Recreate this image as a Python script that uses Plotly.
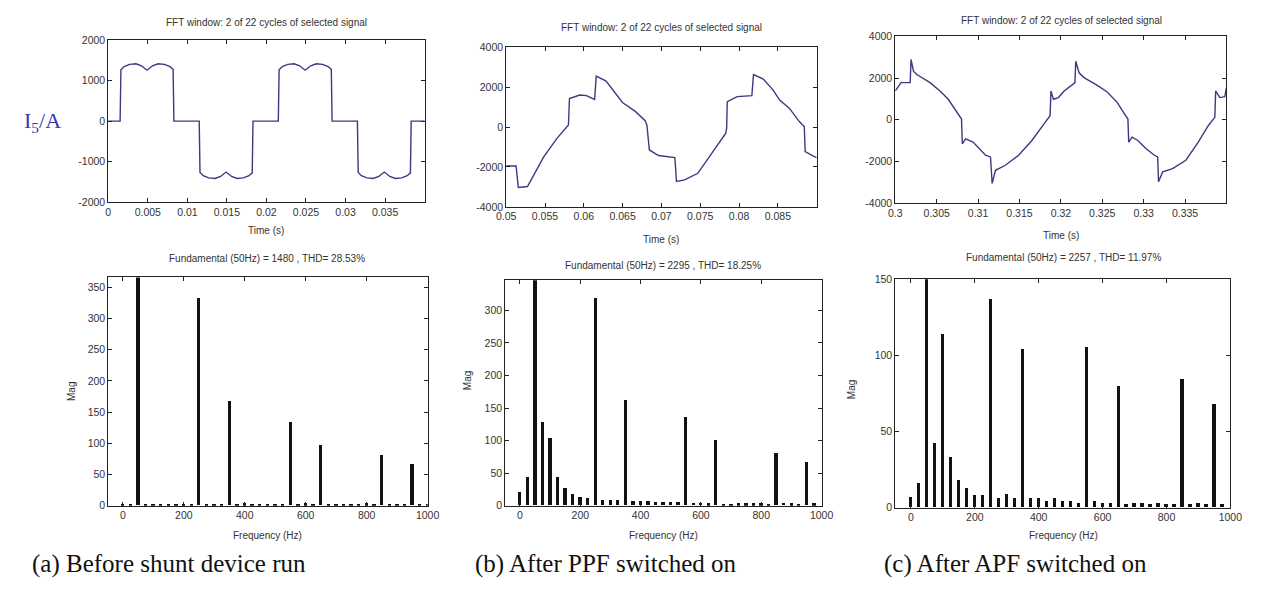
import plotly.graph_objects as go

W, H = 1262, 594

# ---------------- data ----------------
# (a) time-domain current, before shunt device
t_a = [0, 0.0015, 0.0016, 0.0020, 0.0027, 0.0035, 0.0042, 0.0049, 0.0056, 0.0063, 0.0071, 0.0078, 0.0082, 0.0083,
       0.0115, 0.0116, 0.0120, 0.0127, 0.0135, 0.0142, 0.0149, 0.0156, 0.0163, 0.0171, 0.0178, 0.0182, 0.0183,
       0.0215, 0.0216, 0.0220, 0.0227, 0.0235, 0.0242, 0.0249, 0.0256, 0.0263, 0.0271, 0.0278, 0.0282, 0.0283,
       0.0315, 0.0316, 0.0320, 0.0327, 0.0335, 0.0342, 0.0349, 0.0356, 0.0363, 0.0371, 0.0378, 0.0382, 0.0383, 0.04]
i_a = [0, 0, 1270, 1350, 1405, 1420, 1370, 1260, 1370, 1420, 1405, 1350, 1280, 0,
       0, -1270, -1350, -1405, -1420, -1370, -1260, -1370, -1420, -1405, -1350, -1280, 0,
       0, 1270, 1350, 1405, 1420, 1370, 1260, 1370, 1420, 1405, 1350, 1280, 0,
       0, -1270, -1350, -1405, -1420, -1370, -1260, -1370, -1420, -1405, -1350, -1280, 0, 0]

# (b) time-domain current, after PPF
t_b = [0.05, 0.05127, 0.05156, 0.05274, 0.05485, 0.05654, 0.05802, 0.05815, 0.05949, 0.06034, 0.06139, 0.0616,
       0.06287, 0.06414, 0.06498, 0.06667, 0.06793, 0.06814, 0.06844, 0.06962, 0.07173, 0.07194, 0.073, 0.07468,
       0.07595, 0.07722, 0.07827, 0.0784, 0.07848, 0.07975, 0.08143, 0.08165, 0.08186, 0.08312, 0.08439, 0.08523,
       0.0865, 0.08776, 0.0884, 0.08852, 0.08945, 0.09]
i_b = [-1950, -1950, -3030, -2980, -1480, -570, 100, 1430, 1600, 1570, 1380, 2550,
       2300, 1680, 1230, 770, 300, 70, -1150, -1430, -1530, -2730, -2650, -2320,
       -1600, -870, -320, -70, 1270, 1520, 1570, 1570, 2630, 2400, 1850, 1350,
       930, 270, 20, -1230, -1430, -1530]

# (c) time-domain current, after APF
t_c = [0.3, 0.3007, 0.3018, 0.3019, 0.3022, 0.3026, 0.3042, 0.3054, 0.3064, 0.3074, 0.308, 0.3081, 0.3085,
       0.3094, 0.3102, 0.3109, 0.3115, 0.3117, 0.3121, 0.3133, 0.3149, 0.3165, 0.3181, 0.3187, 0.3188, 0.3191,
       0.3197, 0.3204, 0.3212, 0.3217, 0.3218, 0.3222, 0.3228, 0.3244, 0.3256, 0.3268, 0.3277, 0.3281, 0.3282,
       0.3286, 0.3293, 0.3303, 0.3313, 0.3317, 0.3318, 0.3323, 0.3335, 0.3351, 0.3366, 0.3378, 0.3386, 0.3387,
       0.3392, 0.3398, 0.34]
i_c = [1380, 1780, 1780, 2890, 2330, 2170, 1780, 1380, 980, 350, 30, -1160, -920,
       -1080, -1400, -1710, -1790, -3060, -2430, -2190, -1710, -1000, -130, 190, 1380, 980,
       1060, 1380, 1620, 1780, 2810, 2250, 2020, 1650, 1330, 830, 270, 30, -1080,
       -840, -1000, -1400, -1710, -1790, -2980, -2510, -2350, -1950, -1080, -290, 110, 1380,
       1060, 1100, 1540]

# harmonic spectra (25 Hz resolution, 0..1000 Hz)
freq = [0, 25, 50, 75, 100, 125, 150, 175, 200, 225, 250, 275, 300, 325, 350, 375, 400, 425, 450, 475, 500,
        525, 550, 575, 600, 625, 650, 675, 700, 725, 750, 775, 800, 825, 850, 875, 900, 925, 950, 975, 1000]
mag_a = [2, 1, 1480, 1, 1, 1, 1, 1, 2, 1, 333, 1, 1, 1, 168, 1, 3, 1, 1, 1, 1,
         1, 133, 1, 3, 1, 96, 1, 1, 1, 1, 1, 3, 1, 81, 1, 1, 1, 67, 1, 1]
mag_b = [20, 44, 2295, 128, 103, 44, 27, 18, 13, 12, 318, 8, 8, 8, 162, 6, 6, 6, 5, 5, 5,
         5, 135, 4, 4, 3, 100, 2, 2, 3, 3, 3, 3, 2, 81, 4, 3, 2, 67, 3, 0]
mag_c = [7, 16, 2257, 42, 114, 33, 18, 13, 8, 8, 137, 6, 9, 6, 104, 6, 6, 4, 6, 4, 4,
         3, 105, 4, 3, 3, 80, 2, 3, 3, 2, 3, 2, 2, 84, 2, 3, 2, 68, 2, 0]

# tick labels
tx_a = ['0', '0.005', '0.01', '0.015', '0.02', '0.025', '0.03', '0.035']
tx_b = ['0.05', '0.055', '0.06', '0.065', '0.07', '0.075', '0.08', '0.085']
tx_c = ['0.3', '0.305', '0.31', '0.315', '0.32', '0.325', '0.33', '0.335']
ty_a = ['-2000', '-1000', '0', '1000', '2000']
ty_bc = ['-4000', '-2000', '0', '2000', '4000']
tf = ['0', '200', '400', '600', '800', '1000']

titles_top = ['FFT window: 2 of 22 cycles of selected signal'] * 3
titles_bot = ['Fundamental (50Hz) = 1480 , THD= 28.53%',
              'Fundamental (50Hz) = 2295 , THD= 18.25%',
              'Fundamental (50Hz) = 2257 , THD= 11.97%']
captions = ['(a) Before shunt device run', '(b) After PPF switched on', '(c) After APF switched on']

# ---------------- figure ----------------
def px(x):
    return x / W

def py(y):
    return 1 - y / H

fig = go.Figure()
line_col = '#3a3a80'
fig.add_trace(go.Scatter(x=t_a, y=i_a, mode='lines', line=dict(color=line_col, width=1.4), xaxis='x', yaxis='y'))
fig.add_trace(go.Scatter(x=t_b, y=i_b, mode='lines', line=dict(color=line_col, width=1.4), xaxis='x2', yaxis='y2'))
fig.add_trace(go.Scatter(x=t_c, y=i_c, mode='lines', line=dict(color=line_col, width=1.4), xaxis='x3', yaxis='y3'))
for k, m in zip((4, 5, 6), (mag_a, mag_b, mag_c)):
    fig.add_trace(go.Bar(x=freq, y=m, width=11, marker=dict(color='#111', line=dict(width=0)),
                         xaxis='x%d' % k, yaxis='y%d' % k))

tickfont = dict(family='Liberation Sans', size=10.5, color='#333')
base = dict(showline=True, linecolor='#222', linewidth=1, mirror='ticks', ticks='inside', ticklen=4,
            tickcolor='#222', showgrid=False, zeroline=False, tickfont=tickfont, fixedrange=True)

boxes = {
    1: (100, 422, 35, 200), 2: (505, 821, 42, 205), 3: (901, 1238, 31, 201),
    4: (100, 425, 277, 510), 5: (504, 826, 280, 510), 6: (901, 1242, 279, 512),
}
xr = {1: [0, 0.04], 2: [0.05, 0.09], 3: [0.3, 0.34], 4: [-48, 1000], 5: [-49, 1000], 6: [-49, 1000]}
yr = {1: [-2000, 2000], 2: [-4000, 4000], 3: [-4000, 4000], 4: [0, 366], 5: [0, 346], 6: [0, 150]}
xtv = {1: (tx_a, 0.0), 2: (tx_b, 0.05), 3: (tx_c, 0.3)}
layout = {}
for k, (x0, x1, y0, y1) in boxes.items():
    xs = '' if k == 1 else str(k)
    xa = dict(base, domain=[px(x0), px(x1)], range=xr[k], anchor='y' + xs)
    ya = dict(base, domain=[py(y1), py(y0)], range=yr[k], anchor='x' + xs)
    if k <= 3:
        labels, start = xtv[k]
        xa['tickvals'] = [start + 0.005 * i for i in range(len(labels))]
        xa['ticktext'] = labels
        yl = ty_a if k == 1 else ty_bc
        ya['tickvals'] = [float(v) for v in yl]
        ya['ticktext'] = yl
    else:
        xa['tickvals'] = [float(v) for v in tf]
        xa['ticktext'] = tf
        ya['dtick'] = 50
    layout['xaxis' + xs] = xa
    layout['yaxis' + xs] = ya

ann = []
def text(x, y, s, size=10, color='#333', family='Liberation Sans', angle=0):
    ann.append(dict(x=px(x), y=py(y), xref='paper', yref='paper', text=s, showarrow=False,
                    xanchor='center', yanchor='middle', textangle=angle,
                    font=dict(family=family, size=size, color=color)))

for (cx, ty), s in zip([(261, 17), (663, 22), (1070, 15)], titles_top):
    text(cx, ty, s)
for (cx, ty), s in zip([(262, 258), (665, 265), (1072, 257)], titles_bot):
    text(cx, ty, s)
for cx, ty in [(261, 229), (663, 238), (1070, 234)]:
    text(cx, ty, 'Time (s)')
for cx in (262, 665, 1072):
    text(cx, 540, 'Frequency (Hz)')
for cx, cy in [(62, 393), (465, 382), (856, 392)]:
    text(cx, cy, 'Mag', angle=-90)
for cx, s in zip((162, 607, 1023), captions):
    text(cx, 570, s, size=25, color='#111', family='Liberation Serif')
text(33, 118, 'I<sub>5</sub>/A', size=22, color='#3838a8', family='Liberation Serif')

fig.update_layout(width=W, height=H, margin=dict(l=0, r=0, t=0, b=0), paper_bgcolor='white',
                  plot_bgcolor='white', showlegend=False, bargap=0, annotations=ann, **layout)
fig.write_html('out.html', config={'displayModeBar': False},
               post_script="document.body.style.margin='0';document.body.style.overflow='hidden';")
